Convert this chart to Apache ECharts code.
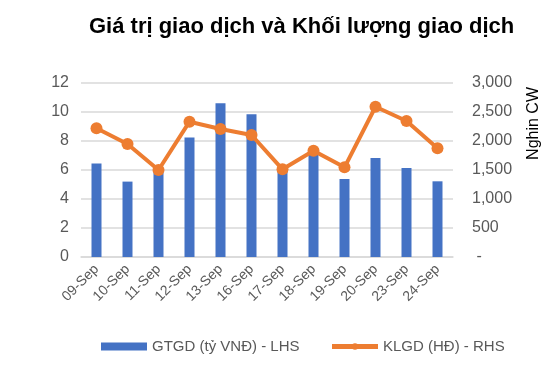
<!DOCTYPE html>
<html>
<head>
<meta charset="utf-8">
<script src="https://cdn.jsdelivr.net/npm/echarts@6/dist/echarts.min.js"></script>
<style>
  html, body { margin: 0; padding: 0; background: #fff; }
  #chart { width: 549px; height: 376px; }
</style>
</head>
<body>
<div id="chart"></div>
<script>
const dates = ['09-Sep', '10-Sep', '11-Sep', '12-Sep', '13-Sep', '16-Sep',
  '17-Sep', '18-Sep', '19-Sep', '20-Sep', '23-Sep', '24-Sep']
const gtgd = [6.45, 5.2, 5.9, 8.25, 10.6, 9.85, 6.2, 7.05, 5.38, 6.83, 6.14, 5.22]
const klgd = [2220, 1948, 1500, 2333, 2207, 2103, 1512, 1833, 1546, 2591, 2345, 1874]

const ink3 = '#595959'
const grid = '#d9d9d9'
const font = '"Liberation Sans", Arial, sans-serif'

const chart = echarts.init(document.getElementById('chart'), null, { renderer: 'canvas' })

chart.setOption({
  animation: false,
  backgroundColor: '#fff',
  textStyle: { fontFamily: font },
  title: {
    text: 'Giá trị giao dịch và Khối lượng giao dịch',
    left: 84,
    top: 11,
    textStyle: { fontSize: 22, fontWeight: 'bold', color: '#000', fontFamily: font }
  },
  graphic: [{
    type: 'text',
    left: 526,
    top: 87,
    rotation: Math.PI / 2,
    style: { text: 'Nghin CW', fill: '#000', fontSize: 16, fontFamily: font }
  }],
  grid: { left: 81, right: 96, top: 83, bottom: 119, containLabel: false },
  legend: {
    top: 334,
    left: 96,
    itemGap: 30,
    itemWidth: 46,
    itemHeight: 8,
    textStyle: { color: ink3, fontSize: 15, fontFamily: font },
    data: [
      { name: 'GTGD (tỷ VNĐ) - LHS', icon: 'rect' },
      { name: 'KLGD (HĐ) - RHS', lineStyle: { width: 5 } }
    ]
  },
  xAxis: {
    type: 'category',
    data: dates,
    axisLine: { lineStyle: { color: grid, width: 1.5 } },
    axisTick: { show: false },
    axisLabel: { color: ink3, fontSize: 14, rotate: 45, margin: 10, interval: 0 }
  },
  yAxis: [
    {
      type: 'value',
      min: 0, max: 12, interval: 2,
      axisLine: { show: false },
      axisTick: { show: false },
      axisLabel: { color: ink3, fontSize: 16, margin: 12 },
      splitLine: { lineStyle: { color: grid, width: 1.5 } }
    },
    {
      type: 'value',
      min: 0, max: 3000, interval: 500,
      axisLine: { show: false },
      axisTick: { show: false },
      splitLine: { show: false },
      axisLabel: {
        color: ink3, fontSize: 16, margin: 19,
        formatter: v => v === 0 ? ' -' : v.toLocaleString('en-US')
      }
    }
  ],
  series: [
    {
      name: 'GTGD (tỷ VNĐ) - LHS',
      type: 'bar',
      data: gtgd,
      barWidth: 10,
      itemStyle: { color: '#4472C4' }
    },
    {
      name: 'KLGD (HĐ) - RHS',
      type: 'line',
      yAxisIndex: 1,
      data: klgd,
      symbol: 'circle',
      symbolSize: 12,
      lineStyle: { color: '#ED7D31', width: 4 },
      itemStyle: { color: '#ED7D31' }
    }
  ]
})
</script>
</body>
</html>
